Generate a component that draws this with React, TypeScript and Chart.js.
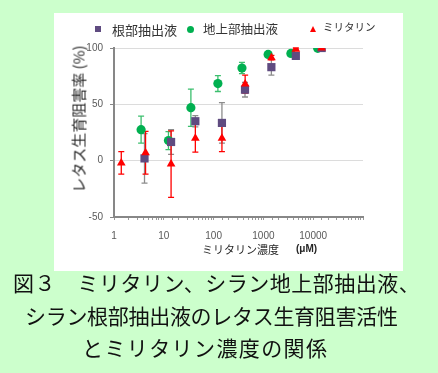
import React, { useEffect, useRef } from 'react';
import { Chart, registerables } from 'chart.js';

Chart.register(...registerables);

// 根部抽出液 (root extract)
const rootX = [4.1, 14, 43, 147, 427, 1446, 4480, 14800];
const rootY = [2, 16.6, 35, 33.5, 63, 83, 93, 100];
const rootErr = [22, 11, 5, 18, 6.5, 7, 2, 0];

// 地上部抽出液 (aerial extract)
const aerialX = [3.5, 12.4, 35, 122, 371, 1245, 3560, 12300];
const aerialY = [27.5, 17.8, 47, 68.4, 82.2, 94.3, 95.2, 99.7];
const aerialErr = [12, 8, 16.5, 7, 5, 2, 2, 0];

// ミリタリン (militarine)
const mirX = [1.4, 4.3, 14, 43, 147, 430, 1450, 4480, 14800];
const mirY = [-2, 7, -3, 20, 20, 68, 91.4, 99, 100];
const mirErr = [10, 19, 29.5, 12.5, 12, 8, 2, 1, 0];

const xTickLabels = ['1', '10', '100', '1000', '10000'];
const yTicks = [-50, 0, 50, 100];

const seriesNames = ['根部抽出液', '地上部抽出液', 'ミリタリン'];
const captionLines = [
  '図３　ミリタリン、シラン地上部抽出液、',
  'シラン根部抽出液のレタス生育阻害活性',
  'とミリタリン濃度の関係',
];

const PURPLE = '#5f4b80';
const GREEN = '#00b050';
const RED = '#ff0000';

const toPts = (xs: number[], ys: number[]) => xs.map((x, i) => ({ x, y: ys[i] }));

const errorBarPlugin = {
  id: 'errorBars',
  beforeDatasetsDraw(chart: any) {
    const { ctx, scales } = chart;
    const x = scales.x;
    const y = scales.y;
    const order = [1, 0, 2];
    order.forEach((di) => {
      const ds: any = chart.data.datasets[di];
      ctx.save();
      ctx.strokeStyle = ds.errorColor;
      ctx.lineWidth = 1.3;
      ds.data.forEach((p: any, i: number) => {
        const e = ds.errors[i];
        if (!e) return;
        const px = x.getPixelForValue(p.x);
        const top = y.getPixelForValue(p.y + e);
        const bot = y.getPixelForValue(p.y - e);
        ctx.beginPath();
        ctx.moveTo(px, top);
        ctx.lineTo(px, bot);
        ctx.moveTo(px - 3, top);
        ctx.lineTo(px + 3, top);
        ctx.moveTo(px - 3, bot);
        ctx.lineTo(px + 3, bot);
        ctx.stroke();
      });
      ctx.restore();
    });
  },
};

export default function App() {
  const ref = useRef<HTMLCanvasElement | null>(null);

  useEffect(() => {
    if (!ref.current) return;
    const chart = new Chart(ref.current, {
      type: 'scatter',
      data: {
        datasets: [
          {
            label: seriesNames[0],
            data: toPts(rootX, rootY),
            errors: rootErr,
            errorColor: '#8c8c8c',
            pointStyle: 'rect',
            pointRadius: 5.8,
            backgroundColor: PURPLE,
            borderColor: PURPLE,
            borderWidth: 0,
            order: 1,
          } as any,
          {
            label: seriesNames[1],
            data: toPts(aerialX, aerialY),
            errors: aerialErr,
            errorColor: '#3cbf6e',
            pointStyle: 'circle',
            pointRadius: 4.6,
            backgroundColor: GREEN,
            borderColor: GREEN,
            borderWidth: 0,
            order: 2,
          } as any,
          {
            label: seriesNames[2],
            data: toPts(mirX, mirY),
            errors: mirErr,
            errorColor: RED,
            pointStyle: 'triangle',
            pointRadius: 5,
            backgroundColor: RED,
            borderColor: RED,
            borderWidth: 0,
            order: 0,
          } as any,
        ],
      },
      options: {
        animation: false,
        responsive: false,
        maintainAspectRatio: false,
        layout: { padding: { top: 35, right: 40, left: 0, bottom: 0 } },
        plugins: { legend: { display: false }, tooltip: { enabled: false } },
        scales: {
          x: {
            type: 'logarithmic',
            min: 1,
            max: 100000,
            afterFit: (s: any) => {
              s.height = 54;
            },
            ticks: {
              autoSkip: false,
              maxRotation: 0,
              minRotation: 0,
              padding: 10,
              color: '#595959',
              font: { size: 10, family: 'Liberation Sans, Arial, sans-serif' },
              callback: (v: any) => (xTickLabels.includes(String(v)) ? String(v) : ''),
            },
            grid: {
              drawOnChartArea: false,
              drawTicks: true,
              tickLength: 3,
              color: '#9a9a9a',
            },
            border: { color: '#878787', width: 2 },
          },
          y: {
            min: -50,
            max: 100,
            afterFit: (s: any) => {
              s.width = 60;
            },
            afterBuildTicks: (s: any) => {
              s.ticks = yTicks.map((v) => ({ value: v }));
            },
            ticks: {
              padding: 7,
              color: '#595959',
              font: { size: 10, family: 'Liberation Sans, Arial, sans-serif' },
            },
            grid: {
              color: (c: any) => (c.tick && c.tick.value === -50 ? 'rgba(0,0,0,0)' : '#dcdcdc'),
              tickColor: '#878787',
              tickLength: 4,
              lineWidth: 1,
            },
            border: { color: '#878787', width: 2 },
          },
        },
      } as any,
      plugins: [errorBarPlugin],
    });
    return () => chart.destroy();
  }, []);

  const jp = '"Noto Sans CJK JP", "Noto Sans", sans-serif';

  return (
    <div
      style={{
        position: 'absolute',
        left: 0,
        top: 0,
        width: 438,
        height: 373,
        background: '#ccffcc',
        overflow: 'hidden',
        fontFamily: jp,
      }}
    >
      <div
        style={{
          position: 'absolute',
          left: 54,
          top: 13,
          width: 349,
          height: 258,
          background: '#ffffff',
        }}
      >
        <canvas ref={ref} width={349} height={258} style={{ display: 'block' }} />
      </div>

      {/* legend */}
      <div style={{ position: 'absolute', left: 95, top: 26, width: 6, height: 6, background: PURPLE }} />
      <div style={{ position: 'absolute', left: 112, top: 22.5, fontSize: 13, lineHeight: 1, color: '#333', whiteSpace: 'nowrap' }}>
        {seriesNames[0]}
      </div>
      <div style={{ position: 'absolute', left: 186.5, top: 25.5, width: 7, height: 7, borderRadius: '50%', background: GREEN }} />
      <div style={{ position: 'absolute', left: 203, top: 22.5, fontSize: 12.5, lineHeight: 1, color: '#333', whiteSpace: 'nowrap' }}>
        {seriesNames[1]}
      </div>
      <div
        style={{
          position: 'absolute',
          left: 309.5,
          top: 26,
          width: 0,
          height: 0,
          borderLeft: '3.5px solid transparent',
          borderRight: '3.5px solid transparent',
          borderBottom: `6px solid ${RED}`,
        }}
      />
      <div style={{ position: 'absolute', left: 323, top: 22, fontSize: 10.5, lineHeight: 1, color: '#333', whiteSpace: 'nowrap' }}>
        {seriesNames[2]}
      </div>

      {/* y-axis title */}
      <div
        style={{
          position: 'absolute',
          left: 78,
          top: 119,
          fontSize: 15,
          lineHeight: 1,
          color: '#262626',
          whiteSpace: 'nowrap',
          transform: 'translate(-50%, -50%) rotate(-90deg)',
        }}
      >
        レタス生育阻害率 (%)
      </div>

      {/* x-axis title */}
      <div style={{ position: 'absolute', left: 202, top: 243.5, fontSize: 11, lineHeight: 1, color: '#262626', whiteSpace: 'nowrap' }}>
        ミリタリン濃度
      </div>
      <div
        style={{
          position: 'absolute',
          left: 296,
          top: 244,
          fontSize: 10,
          lineHeight: 1,
          fontWeight: 'bold',
          color: '#262626',
          fontFamily: 'Liberation Sans, Arial, sans-serif',
          whiteSpace: 'nowrap',
        }}
      >
        (μM)
      </div>

      {/* caption */}
      <div style={{ position: 'absolute', left: 13, top: 271.5, fontSize: 21, lineHeight: 1, color: '#111', whiteSpace: 'nowrap', letterSpacing: 0.5 }}>
        {captionLines[0]}
      </div>
      <div style={{ position: 'absolute', left: 25, top: 304.5, fontSize: 21, lineHeight: 1, color: '#111', whiteSpace: 'nowrap', letterSpacing: -0.3 }}>
        {captionLines[1]}
      </div>
      <div style={{ position: 'absolute', left: 82, top: 336.5, fontSize: 21, lineHeight: 1, color: '#111', whiteSpace: 'nowrap', letterSpacing: 1.4 }}>
        {captionLines[2]}
      </div>
    </div>
  );
}
